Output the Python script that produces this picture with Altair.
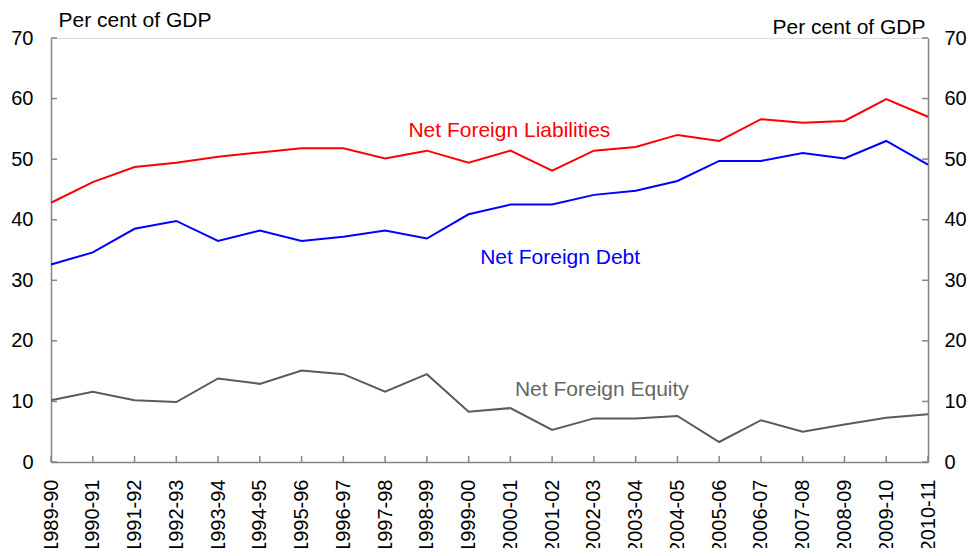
import altair as alt
import pandas as pd

years = ["1989-90", "1990-91", "1991-92", "1992-93", "1993-94", "1994-95", "1995-96",
         "1996-97", "1997-98", "1998-99", "1999-00", "2000-01", "2001-02", "2002-03",
         "2003-04", "2004-05", "2005-06", "2006-07", "2007-08", "2008-09", "2009-10", "2010-11"]
liabilities = [42.8, 46.2, 48.7, 49.4, 50.4, 51.1, 51.8, 51.8, 50.1, 51.4, 49.4,
               51.4, 48.1, 51.4, 52.0, 54.0, 53.0, 56.6, 56.0, 56.3, 59.9, 57.0]
debt = [32.6, 34.6, 38.5, 39.8, 36.5, 38.2, 36.5, 37.2, 38.2, 36.9, 40.9,
        42.5, 42.5, 44.1, 44.8, 46.4, 49.7, 49.7, 51.0, 50.1, 53.0, 49.1]
equity = [10.2, 11.6, 10.2, 9.9, 13.8, 12.9, 15.1, 14.5, 11.6, 14.5, 8.3,
          8.9, 5.3, 7.2, 7.2, 7.6, 3.3, 6.9, 5.0, 6.2, 7.3, 7.9]
series = ["Net Foreign Liabilities", "Net Foreign Debt", "Net Foreign Equity"]
colors = ["#FF0000", "#0000FF", "#5A5A5A"]
y_ticks = [0, 10, 20, 30, 40, 50, 60, 70]

# annotation anchors (category, value, label)
ann_years = ["2000-01", "2001-02", "2002-03"]
ann_values = [54.6, 33.7, 11.9]
ann_dx = [-1, 8, 8]
ann_colors = ["#FF0000", "#0000FF", "#666666"]

rows = []
for name, vals in zip(series, [liabilities, debt, equity]):
    for y, v in zip(years, vals):
        rows.append({"year": y, "value": v, "series": name})
df = pd.DataFrame(rows)
ticks_df = pd.DataFrame({"v": y_ticks})
years_df = pd.DataFrame({"year": years})

W, H = 877, 424
FONT = "Liberation Sans"
AX = "#858585"

xscale = alt.Scale(type="point", padding=0, domain=years)
x_enc = alt.X("year:O", scale=xscale, sort=years,
              axis=alt.Axis(title=None, labelAngle=-90, labelAlign="right",
                            labelBaseline="middle", labelPadding=17, ticks=False,
                            domainColor=AX, domainWidth=1.5, labelFont=FONT,
                            labelFontSize=20, labelColor="black", grid=False))
yscale = alt.Scale(domain=[0, 70], nice=False)

lines = alt.Chart(df).mark_line(strokeWidth=2).encode(
    x=x_enc,
    y=alt.Y("value:Q", scale=yscale,
            axis=alt.Axis(title="Per cent of GDP", titleAngle=0, titleAlign="left",
                          titleBaseline="alphabetic", titleX=7, titleY=-12,
                          titleFont=FONT, titleFontSize=21, titleFontWeight="normal",
                          titleColor="black", values=y_ticks, ticks=False,
                          labelPadding=18, labelFont=FONT, labelFontSize=20,
                          labelColor="black", domainColor=AX, domainWidth=1.5,
                          grid=False)),
    color=alt.Color("series:N", scale=alt.Scale(domain=series, range=colors), legend=None),
)

texts = []
for s, yr, v, dx, c in zip(series, ann_years, ann_values, ann_dx, ann_colors):
    t = alt.Chart(pd.DataFrame({"year": [yr], "value": [v], "label": [s]})).mark_text(
        font=FONT, fontSize=21, color=c, align="center", baseline="middle", dx=dx
    ).encode(x=x_enc, y=alt.Y("value:Q", scale=yscale, axis=None), text="label:N")
    texts.append(t)

lticks = alt.Chart(ticks_df).mark_rule(color=AX, strokeWidth=1.5).encode(
    y=alt.Y("v:Q", scale=yscale, axis=None), x=alt.value(0), x2=alt.value(6))

rticks = alt.Chart(ticks_df).mark_rule(color=AX, strokeWidth=1.5).encode(
    y=alt.Y("v:Q", scale=yscale,
            axis=alt.Axis(orient="right", title="Per cent of GDP", titleAngle=0,
                          titleAlign="right", titleBaseline="alphabetic", titleX=-3,
                          titleY=-5, titleFont=FONT, titleFontSize=21,
                          titleFontWeight="normal", titleColor="black", values=y_ticks,
                          ticks=False, labelPadding=16, labelFont=FONT, labelFontSize=20,
                          labelColor="black", domainColor=AX, domainWidth=1.5, grid=False)),
    x=alt.value(W), x2=alt.value(W - 6))

xticks = alt.Chart(years_df).mark_rule(color=AX, strokeWidth=1.5).encode(
    x=x_enc, y=alt.value(H), y2=alt.value(H - 6))

chart = alt.layer(lines, *texts, lticks, xticks, rticks).resolve_scale(
    y="independent"
).properties(
    width=W, height=H,
    autosize=alt.AutoSizeParams(type="none"),
    padding={"left": 43, "top": 30, "right": 39, "bottom": 86},
).configure_view(stroke=None).configure(background="white")

chart.save("out.html", embed_options={"renderer": "svg", "actions": False})
